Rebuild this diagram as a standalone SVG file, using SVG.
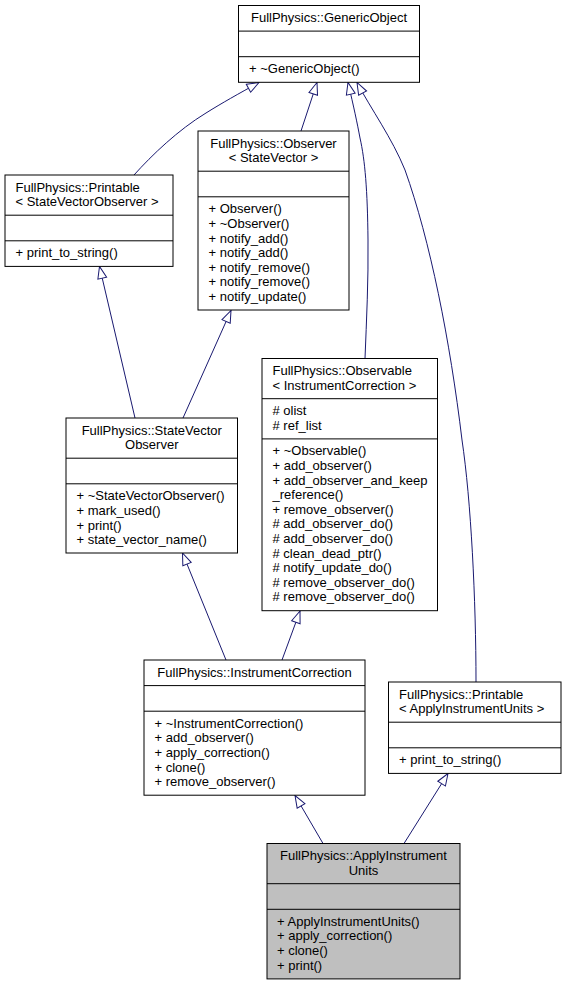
<svg xmlns="http://www.w3.org/2000/svg" width="566" height="985" viewBox="0 0 566 985">
<style>
.box{fill:#ffffff;stroke:#000000;stroke-width:1}
.focus{fill:#bfbfbf;stroke:#000000;stroke-width:1}
.sep{stroke:#000000;stroke-width:1}
text{font-family:"Liberation Sans",Arial,Helvetica,sans-serif;font-size:13px;fill:#000000}
.c{text-anchor:middle}
.edge{fill:none;stroke:#191970;stroke-width:1}
</style>
<defs>
<marker id="inh" viewBox="0 0 13 10" refX="12.5" refY="5" markerWidth="13" markerHeight="10" orient="auto" markerUnits="userSpaceOnUse" overflow="visible">
<path d="M0.5,0.5 L12.5,5 L0.5,9.5 Z" fill="#ffffff" stroke="#191970" stroke-width="1"/>
</marker>
</defs>
<rect width="566" height="985" fill="#ffffff"/>

<g id="edges">
<path class="edge" marker-end="url(#inh)" d="M134,175 C152,155 178,130 206,113 C222,103 238,94 259,82.5"/>
<path class="edge" marker-end="url(#inh)" d="M301,131 L317,82.5"/>
<path class="edge" marker-end="url(#inh)" d="M365,358.5 C366.5,320 368.5,280 368,240 C367.5,190 365,160 360,138 C357,122 354,108 348,82.5"/>
<path class="edge" marker-end="url(#inh)" d="M476,682 C476,600 471,500 462,440 C450,340 430,240 405,170 C392,138 371,109 357,82.5"/>
<path class="edge" marker-end="url(#inh)" d="M135,418 L99.5,266.5"/>
<path class="edge" marker-end="url(#inh)" d="M183,418 L231,310.5"/>
<path class="edge" marker-end="url(#inh)" d="M226,660 L182.5,553"/>
<path class="edge" marker-end="url(#inh)" d="M282,660 L300,611"/>
<path class="edge" marker-end="url(#inh)" d="M323,843.5 L295,795.5"/>
<path class="edge" marker-end="url(#inh)" d="M404,843.5 L448,773.5"/>
</g>

<g id="GenericObject">
<rect class="box" x="238.5" y="5.5" width="181" height="76.8"/>
<line class="sep" x1="238.5" y1="31.1" x2="419.5" y2="31.1"/>
<line class="sep" x1="238.5" y1="56.7" x2="419.5" y2="56.7"/>
<text class="c" x="329" y="22">FullPhysics::GenericObject</text>
<text x="249" y="73.2">+ ~GenericObject()</text>
</g>

<g id="PrintableStateVectorObserver">
<rect class="box" x="5" y="175" width="168" height="91.4"/>
<line class="sep" x1="5" y1="215.2" x2="173" y2="215.2"/>
<line class="sep" x1="5" y1="240.8" x2="173" y2="240.8"/>
<text x="15.5" y="191.5">FullPhysics::Printable</text>
<text x="15.5" y="206.1">&lt; StateVectorObserver &gt;</text>
<text x="15.5" y="257.3">+ print_to_string()</text>
</g>

<g id="ObserverStateVector">
<rect class="box" x="198" y="131" width="151" height="179"/>
<line class="sep" x1="198" y1="171.2" x2="349" y2="171.2"/>
<line class="sep" x1="198" y1="196.8" x2="349" y2="196.8"/>
<text class="c" x="273.5" y="147.5">FullPhysics::Observer</text>
<text class="c" x="273.5" y="162.1">&lt; StateVector &gt;</text>
<text x="208.5" y="213.3">+ Observer()</text>
<text x="208.5" y="227.9">+ ~Observer()</text>
<text x="208.5" y="242.5">+ notify_add()</text>
<text x="208.5" y="257.1">+ notify_add()</text>
<text x="208.5" y="271.7">+ notify_remove()</text>
<text x="208.5" y="286.3">+ notify_remove()</text>
<text x="208.5" y="300.9">+ notify_update()</text>
</g>

<g id="StateVectorObserver">
<rect class="box" x="66" y="418" width="171.5" height="135"/>
<line class="sep" x1="66" y1="458.2" x2="237.5" y2="458.2"/>
<line class="sep" x1="66" y1="483.8" x2="237.5" y2="483.8"/>
<text class="c" x="151.75" y="434.5">FullPhysics::StateVector</text>
<text class="c" x="151.75" y="449.1">Observer</text>
<text x="76.5" y="500.3">+ ~StateVectorObserver()</text>
<text x="76.5" y="514.9">+ mark_used()</text>
<text x="76.5" y="529.5">+ print()</text>
<text x="76.5" y="544.1">+ state_vector_name()</text>
</g>

<g id="ObservableInstrumentCorrection">
<rect class="box" x="262" y="358.5" width="175.5" height="252.2"/>
<line class="sep" x1="262" y1="398.7" x2="437.5" y2="398.7"/>
<line class="sep" x1="262" y1="438.9" x2="437.5" y2="438.9"/>
<text x="272.5" y="375">FullPhysics::Observable</text>
<text x="272.5" y="389.6">&lt; InstrumentCorrection &gt;</text>
<text x="272.5" y="415.2"># olist</text>
<text x="272.5" y="429.8"># ref_list</text>
<text x="272.5" y="455.4">+ ~Observable()</text>
<text x="272.5" y="470">+ add_observer()</text>
<text x="272.5" y="484.6">+ add_observer_and_keep</text>
<text x="272.5" y="499.2">_reference()</text>
<text x="272.5" y="513.8">+ remove_observer()</text>
<text x="272.5" y="528.4"># add_observer_do()</text>
<text x="272.5" y="543"># add_observer_do()</text>
<text x="272.5" y="557.6"># clean_dead_ptr()</text>
<text x="272.5" y="572.2"># notify_update_do()</text>
<text x="272.5" y="586.8"># remove_observer_do()</text>
<text x="272.5" y="601.4"># remove_observer_do()</text>
</g>

<g id="InstrumentCorrection">
<rect class="box" x="144" y="660" width="221" height="135.2"/>
<line class="sep" x1="144" y1="685.6" x2="365" y2="685.6"/>
<line class="sep" x1="144" y1="711.2" x2="365" y2="711.2"/>
<text class="c" x="254.5" y="676.5">FullPhysics::InstrumentCorrection</text>
<text x="154.5" y="727.7">+ ~InstrumentCorrection()</text>
<text x="154.5" y="742.3">+ add_observer()</text>
<text x="154.5" y="756.9">+ apply_correction()</text>
<text x="154.5" y="771.5">+ clone()</text>
<text x="154.5" y="786.1">+ remove_observer()</text>
</g>

<g id="PrintableApplyInstrumentUnits">
<rect class="box" x="388.5" y="682" width="172.5" height="91.4"/>
<line class="sep" x1="388.5" y1="722.2" x2="561" y2="722.2"/>
<line class="sep" x1="388.5" y1="747.8" x2="561" y2="747.8"/>
<text x="399" y="698.5">FullPhysics::Printable</text>
<text x="399" y="713.1">&lt; ApplyInstrumentUnits &gt;</text>
<text x="399" y="764.3">+ print_to_string()</text>
</g>

<g id="ApplyInstrumentUnits">
<rect class="focus" x="267" y="843.5" width="193" height="135.4"/>
<line class="sep" x1="267" y1="883.7" x2="460" y2="883.7"/>
<line class="sep" x1="267" y1="909.3" x2="460" y2="909.3"/>
<text class="c" x="363.5" y="860">FullPhysics::ApplyInstrument</text>
<text class="c" x="363.5" y="874.6">Units</text>
<text x="277" y="925.8">+ ApplyInstrumentUnits()</text>
<text x="277" y="940.4">+ apply_correction()</text>
<text x="277" y="955">+ clone()</text>
<text x="277" y="969.6">+ print()</text>
</g>
</svg>
